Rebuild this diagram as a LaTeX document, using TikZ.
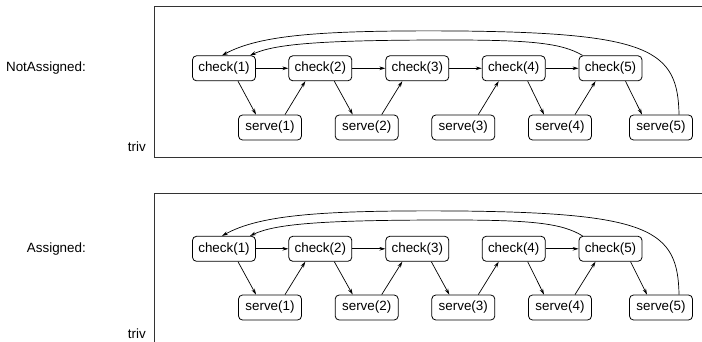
\documentclass[tikz,border=0pt]{standalone}
\usepackage{fontspec}
\setmainfont{Liberation Sans}
\usetikzlibrary{arrows.meta}
\begin{document}
\begin{tikzpicture}[x=1pt,y=-1pt,
  every node/.style={font=\fontsize{13.4}{15}\selectfont},
  box/.style={draw, rounded corners=4pt, line width=0.8pt, minimum width=63pt, minimum height=25pt, inner sep=0pt},
  frame/.style={draw=black!80, line width=0.9pt},
  edge/.style={line width=0.7pt, -{Stealth[length=6pt,width=3.6pt]}},
  lbl/.style={anchor=east, inner sep=0pt}]
\useasboundingbox (0,0) rectangle (702,342);

% ---------- upper panel: NotAssigned ----------
\draw[frame] (702,6.5) -- (154.5,6.5) -- (154.5,157) -- (702,157);
\node[lbl] (na) at (86,68) {NotAssigned:};
\node[lbl] (tv1) at (146,147) {triv};

\node[box] (ac1) at (224,68.3) {check(1)};
\node[box] (ac2) at (320.3,68.3) {check(2)};
\node[box] (ac3) at (417.3,68.3) {check(3)};
\node[box] (ac4) at (513.7,68.3) {check(4)};
\node[box] (ac5) at (610.5,68.3) {check(5)};
\node[box] (as1) at (270,127.5) {serve(1)};
\node[box] (as2) at (366.7,127.5) {serve(2)};
\node[box] (as3) at (463.3,127.5) {serve(3)};
\node[box] (as4) at (560,127.5) {serve(4)};
\node[box] (as5) at (661,127.5) {serve(5)};

\draw[edge] (ac1) -- (ac2);
\draw[edge] (ac2) -- (ac3);
\draw[edge] (ac3) -- (ac4);
\draw[edge] (ac4) -- (ac5);
\draw[edge] ([xshift=14pt]ac1.south) -- ([xshift=-14pt]as1.north);
\draw[edge] ([xshift=15pt]as1.north) -- ([xshift=-15pt]ac2.south);
\draw[edge] ([xshift=14pt]ac2.south) -- ([xshift=-14pt]as2.north);
\draw[edge] ([xshift=15pt]as2.north) -- ([xshift=-15pt]ac3.south);
\draw[edge] ([xshift=15pt]as3.north) -- ([xshift=-15pt]ac4.south);
\draw[edge] ([xshift=14pt]ac4.south) -- ([xshift=-16pt]as4.north);
\draw[edge] ([xshift=15pt]as4.north) -- ([xshift=-15pt]ac5.south);
\draw[edge] ([xshift=15pt]ac5.south) -- ([xshift=-19pt]as5.north);
% back edges to check(1)
\coordinate (ao) at (460,31);
\coordinate (ai) at (450,40);
\draw[edge] ([xshift=18pt]as5.north) .. controls (678,50) and (650,33) .. (ao)
  .. controls (320,30) and (260,35) .. ([xshift=-2pt]ac1.north);
\draw[edge] ([xshift=-28pt]ac5.north) .. controls (562,43) and (530,40) .. (ai)
  .. controls (320,40) and (275,44) .. ([xshift=26pt]ac1.north);

% ---------- lower panel: Assigned ----------
\draw[frame] (702,193) -- (154.5,193) -- (154.5,342);
\node[lbl] (asg) at (86,249) {Assigned:};
\node[lbl] (tv2) at (146,334) {triv};

\node[box] (bc1) at (224,248.8) {check(1)};
\node[box] (bc2) at (320.3,248.8) {check(2)};
\node[box] (bc3) at (417.3,248.8) {check(3)};
\node[box] (bc4) at (513.7,248.8) {check(4)};
\node[box] (bc5) at (610.5,248.8) {check(5)};
\node[box] (bs1) at (270,307.5) {serve(1)};
\node[box] (bs2) at (366.7,307.5) {serve(2)};
\node[box] (bs3) at (463.3,307.5) {serve(3)};
\node[box] (bs4) at (560,307.5) {serve(4)};
\node[box] (bs5) at (661,307.5) {serve(5)};

\draw[edge] (bc1) -- (bc2);
\draw[edge] (bc2) -- (bc3);
\draw[edge] (bc4) -- (bc5);
\draw[edge] ([xshift=14pt]bc1.south) -- ([xshift=-14pt]bs1.north);
\draw[edge] ([xshift=15pt]bs1.north) -- ([xshift=-15pt]bc2.south);
\draw[edge] ([xshift=14pt]bc2.south) -- ([xshift=-14pt]bs2.north);
\draw[edge] ([xshift=15pt]bs2.north) -- ([xshift=-15pt]bc3.south);
\draw[edge] ([xshift=14pt]bc3.south) -- ([xshift=-14pt]bs3.north);
\draw[edge] ([xshift=15pt]bs3.north) -- ([xshift=-15pt]bc4.south);
\draw[edge] ([xshift=14pt]bc4.south) -- ([xshift=-16pt]bs4.north);
\draw[edge] ([xshift=15pt]bs4.north) -- ([xshift=-15pt]bc5.south);
\draw[edge] ([xshift=20pt]bc5.south) -- ([xshift=-14pt]bs5.north);
% back edges to check(1)
\coordinate (bo) at (460,211);
\coordinate (bi) at (450,220);
\draw[edge] ([xshift=18pt]bs5.north) .. controls (678,230) and (650,213) .. (bo)
  .. controls (320,210) and (260,215) .. ([xshift=-2pt]bc1.north);
\draw[edge] ([xshift=-28pt]bc5.north) .. controls (562,223) and (530,220) .. (bi)
  .. controls (320,220) and (275,224) .. ([xshift=26pt]bc1.north);
\end{tikzpicture}
\end{document}
